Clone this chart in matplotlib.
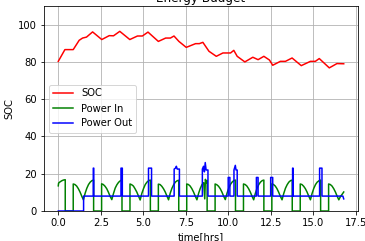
import matplotlib
matplotlib.use("Agg")
import matplotlib.pyplot as plt

# State of charge
t_soc = [0, 0.39, 0.88, 1.23, 1.43, 1.66, 2.02, 2.56, 3.0, 3.25, 3.62, 4.21,
         4.66, 4.95, 5.28, 5.89, 6.32, 6.6, 6.81, 7.1, 7.53, 8.08, 8.3, 8.51,
         8.87, 9.3, 9.69, 10.14, 10.33, 10.53, 10.98, 11.45, 11.76, 12.1,
         12.43, 12.62, 13.07, 13.37, 13.76, 14.3, 14.84, 15.13, 15.36, 15.95,
         16.4, 16.8]
soc = [80.3, 86.6, 86.6, 91.6, 92.8, 93.3, 96.1, 92.0, 94.1, 94.0, 96.4, 92.0,
       93.9, 93.9, 96.0, 91.0, 92.8, 92.8, 93.9, 91.0, 87.8, 89.8, 89.8, 90.5,
       85.7, 83.0, 84.8, 84.8, 86.2, 83.0, 80.0, 82.5, 81.2, 83.0,
       81.0, 78.2, 80.3, 80.3, 82.1, 78.0, 80.3, 80.3, 81.8, 76.8,
       79.1, 79.0]

# Power in (solar), eclipses drop to zero
t_in = [0, 0.02, 0.1, 0.2, 0.3, 0.41, 0.41,
        0.88, 0.88, 0.98, 1.08, 1.18, 1.28, 1.38, 1.48, 1.58, 1.68, 1.78, 1.88, 1.98, 2.08, 2.08,
        2.55, 2.55, 2.65, 2.75, 2.85, 2.95, 3.05, 3.15, 3.25, 3.35, 3.45, 3.55, 3.65, 3.75, 3.75,
        4.22, 4.22, 4.32, 4.42, 4.52, 4.62, 4.72, 4.82, 4.92, 5.02, 5.12, 5.22, 5.32, 5.42, 5.42,
        5.89, 5.89, 5.99, 6.09, 6.19, 6.29, 6.39, 6.49, 6.59, 6.69, 6.79, 6.89, 6.99, 7.09, 7.09,
        7.56, 7.56, 7.66, 7.76, 7.86, 7.96, 8.06, 8.16, 8.26, 8.36, 8.46, 8.56, 8.62, 8.66, 8.7, 8.76, 8.76,
        9.23, 9.23, 9.33, 9.43, 9.53, 9.63, 9.73, 9.83, 9.93, 10.03, 10.13, 10.23, 10.33, 10.43, 10.43,
        10.9, 10.9, 11.0, 11.1, 11.2, 11.3, 11.4, 11.5, 11.6, 11.7, 11.8, 11.9, 12.0, 12.1, 12.1,
        12.57, 12.57, 12.67, 12.77, 12.87, 12.97, 13.07, 13.17, 13.27, 13.37, 13.47, 13.57, 13.67, 13.77, 13.77,
        14.24, 14.24, 14.34, 14.44, 14.54, 14.64, 14.74, 14.84, 14.94, 15.04, 15.14, 15.24, 15.34, 15.44, 15.44,
        15.91, 15.91, 16.01, 16.11, 16.21, 16.31, 16.41, 16.51, 16.61, 16.71, 16.8]
p_in = [13.5, 15.0, 15.6, 16.2, 16.6, 16.8, 0,
        0, 14.5, 14.2, 13.4, 12.0, 10.2, 8.0, 6.0, 9.5, 12.2, 14.2, 15.5, 16.3, 16.6, 0,
        0, 14.6, 14.2, 13.3, 12.0, 10.1, 7.9, 6.1, 9.4, 12.3, 14.1, 15.4, 16.2, 16.7, 0,
        0, 14.5, 14.1, 13.4, 11.9, 10.2, 8.0, 5.9, 9.5, 12.1, 14.2, 15.5, 16.3, 16.6, 0,
        0, 14.4, 14.2, 13.3, 12.0, 10.3, 8.1, 6.0, 9.6, 12.2, 14.1, 15.5, 16.2, 16.5, 0,
        0, 14.5, 14.2, 13.4, 12.0, 10.2, 8.0, 6.0, 9.5, 12.2, 14.2, 15.2, 6.5, 17.0, 15.0, 16.4, 0,
        0, 14.5, 14.1, 13.3, 12.0, 10.2, 8.0, 6.1, 9.5, 12.2, 14.2, 15.5, 16.3, 16.6, 0,
        0, 14.5, 14.2, 13.4, 12.0, 10.2, 8.0, 6.0, 9.5, 12.2, 14.2, 15.5, 16.3, 16.6, 0,
        0, 14.6, 14.2, 13.4, 12.0, 10.1, 7.9, 6.0, 9.4, 12.2, 14.1, 15.5, 16.3, 16.6, 0,
        0, 14.5, 14.2, 13.3, 12.0, 10.2, 8.0, 6.0, 9.5, 12.2, 14.2, 15.5, 16.2, 16.6, 0,
        0, 14.5, 14.2, 13.4, 12.0, 10.2, 8.0, 6.0, 7.8, 9.0, 10.2]

# Power out (loads), baseline plus spikes
t_out = [0, 1.49, 1.49, 2.06, 2.06, 2.09, 2.09, 3.69, 3.69, 3.77, 3.77,
         5.31, 5.31, 5.49, 5.49, 6.82, 6.82, 6.9, 6.95, 7.0, 7.13, 7.13,
         8.48, 8.48, 8.55, 8.6, 8.65, 8.7, 8.81, 8.81, 10.0, 10.0, 10.1, 10.1,
         10.34, 10.34, 10.42, 10.46, 10.53, 10.53, 11.66, 11.66, 11.76, 11.76,
         12.5, 12.5, 12.62, 12.62, 13.79, 13.79, 13.82, 13.82,
         15.38, 15.38, 15.52, 15.52, 16.75, 16.8]
p_out = [0, 0, 8, 8, 23, 23, 8, 8, 23, 23, 8,
         8, 23, 23, 8, 8, 22.5, 23, 24, 22.5, 22.5, 8,
         8, 22.5, 24, 21, 26, 22, 22, 8, 8, 18, 18, 8,
         8, 22, 24.5, 22, 22, 8, 8, 18, 18, 8,
         8, 18, 18, 8, 8, 23, 23, 8,
         8, 23, 23, 8, 8, 6.5]

fig = plt.figure(figsize=(365 / 72, 241 / 72), dpi=72)
ax = fig.add_axes([44 / 365, 30 / 241, 314 / 365, 205 / 241])

ax.plot(t_soc, soc, color="r", label="SOC")
ax.plot(t_in, p_in, color="g", label="Power In")
ax.plot(t_out, p_out, color="b", label="Power Out")

ax.set_ylim(0, 110)
ax.set_xticks([0, 2.5, 5, 7.5, 10, 12.5, 15, 17.5])
ax.set_yticks([0, 20, 40, 60, 80, 100])
ax.grid(True)
ax.set_title("Energy Budget", pad=4)
ax.set_xlabel("time[hrs]")
ax.set_ylabel("SOC")
ax.legend(loc="center left")

fig.savefig("out.png", dpi=72)
